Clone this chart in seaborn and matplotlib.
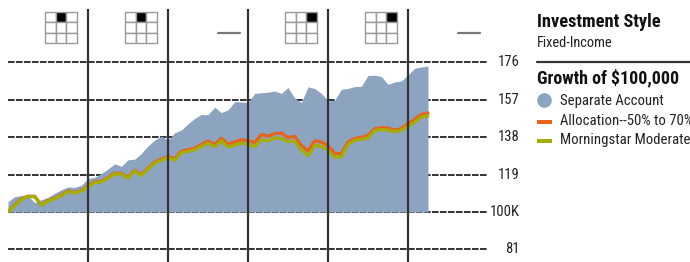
import numpy as np
import pandas as pd
import matplotlib
matplotlib.use("Agg")
import matplotlib.pyplot as plt
import matplotlib.transforms as mtransforms
from matplotlib.patches import Rectangle
import seaborn as sns

# ---------------- data ----------------
separate_account = [105.2, 107.8, 108.3, 108.3, 104.8, 106.2, 107.5, 109.5, 111.3, 112.7,
                    112.5, 113.5, 117.0, 117.6, 119.6, 121.8, 124.5, 123.2, 126.5, 126.8,
                    129.7, 133.5, 136.5, 138.5, 136.5, 140.2, 141.6, 144.8, 147.5, 149.5,
                    149.4, 153.2, 150.5, 151.8, 156.0, 155.9, 155.5, 160.2, 160.5, 160.8,
                    161.4, 160.2, 163.2, 157.8, 155.6, 163.5, 162.7, 160.2, 156.4, 156.7,
                    162.3, 162.7, 163.7, 163.8, 169.3, 169.4, 168.8, 164.8, 166.0, 166.5,
                    169.6, 173.0, 173.6, 174.1]
allocation = [100.2, 103.5, 106.8, 108.0, 108.0, 103.6, 105.8, 107.0, 108.6, 110.6,
              110.0, 110.8, 113.4, 115.3, 115.6, 117.6, 119.7, 119.6, 117.5, 121.2,
              119.0, 122.3, 125.3, 126.8, 128.2, 127.0, 130.8, 131.6, 132.4, 134.2,
              136.0, 134.3, 137.4, 134.4, 135.6, 136.6, 136.2, 135.3, 139.3, 138.5,
              139.8, 140.1, 137.8, 138.4, 133.7, 131.0, 136.1, 135.6, 133.6, 129.8,
              129.6, 135.5, 137.3, 137.8, 138.9, 142.3, 142.8, 142.6, 141.5, 142.4,
              144.8, 147.0, 149.5, 150.3]
moderate = [100.2, 103.2, 106.4, 107.8, 107.8, 103.4, 105.5, 106.8, 108.3, 110.3,
            109.7, 110.5, 113.0, 114.9, 115.2, 117.2, 119.3, 119.2, 117.1, 120.8,
            118.5, 121.8, 124.8, 126.2, 127.5, 126.3, 130.0, 130.8, 131.5, 133.2,
            135.0, 133.1, 136.1, 133.0, 134.0, 135.0, 134.4, 133.2, 136.7, 136.1,
            137.6, 137.3, 135.7, 136.0, 131.5, 128.5, 133.8, 133.4, 131.4, 127.8,
            128.0, 134.3, 136.5, 136.8, 137.6, 141.3, 141.8, 141.6, 140.7, 141.5,
            143.4, 145.6, 148.2, 148.8]
ytick_values = [81, 100, 119, 138, 157, 176]
ytick_labels = ["81", "100K", "119", "138", "157", "176"]
n_years = 6
# style box per year: (row, col) of filled cell, None = no rating (dash)
style_boxes = [(0, 1), (0, 1), None, (0, 2), (0, 2), None]
series_names = ["Separate Account", "Allocation--50% to 70% Equity",
                "Morningstar Moderate Target Risk"]

# ---------------- style ----------------
sns.set_theme(style="white")
FONT = ["Roboto Condensed", "Liberation Sans Narrow", "Roboto", "DejaVu Sans"]
plt.rcParams["font.family"] = FONT

AREA = "#8ca4c0"
ORANGE = "#e8621c"
OLIVE = "#a4ad00"

W, H = 690, 262
fig = plt.figure(figsize=(W / 100, H / 100), dpi=100)
ax_left, ax_right, ax_top, ax_bottom = 8, 488, 9, 262
ax = fig.add_axes([ax_left / W, 1 - ax_bottom / H,
                   (ax_right - ax_left) / W, (ax_bottom - ax_top) / H])

px_per_unit = 1.97
y_min = 100 - (ax_bottom - 212) / px_per_unit
y_max = 100 + (212 - ax_top) / px_per_unit
ax.set_xlim(0, n_years * 12)
ax.set_ylim(y_min, y_max)

months = np.arange(len(separate_account))
df = pd.DataFrame({"month": months, "sa": separate_account,
                   "alloc": allocation, "mod": moderate})

# gridlines
ax.hlines(ytick_values, 0, n_years * 12, colors="#111111", lw=1.2,
          linestyles=(0, (4, 0.8)), zorder=1)

# area
ax.fill_between(df["month"], 100, df["sa"], color=AREA, lw=0, zorder=2)

# lines
sns.lineplot(data=df, x="month", y="alloc", color=ORANGE, lw=2.3, ax=ax, zorder=3)
sns.lineplot(data=df, x="month", y="mod", color=OLIVE, lw=2.3, ax=ax, zorder=4)

# year separators
for yr in range(1, n_years):
    ax.axvline(yr * 12, color="#333333", lw=1.6, zorder=5)

# y tick labels (right side)
lab_trans = mtransforms.blended_transform_factory(ax.transAxes, ax.transData)
for v, s in zip(ytick_values, ytick_labels):
    ax.text(1 + 32 / (ax_right - ax_left), v, s, transform=lab_trans,
            ha="right", va="center", fontsize=10.5, color="#222222",
            clip_on=False)

# style boxes
box_trans = mtransforms.blended_transform_factory(ax.transData, ax.transAxes)
ax_h = ax_bottom - ax_top
box_w_m = 32 / 6.667
box_top = (ax_bottom - 12) / ax_h
box_bot = (ax_bottom - 43) / ax_h
cell_h = (box_top - box_bot) / 3
for i, sb in enumerate(style_boxes):
    x0 = i * 12
    if sb is None:
        yd = (ax_bottom - 33) / ax_h
        ax.plot([x0 + 7.5, x0 + 10.8], [yd, yd], color="#777777", lw=1.6,
                transform=box_trans, clip_on=False, zorder=6)
        continue
    bx = x0 + 5.55
    cw = box_w_m / 3
    for r in range(3):
        for c in range(3):
            filled = (r, c) == sb
            rect = Rectangle((bx + c * cw, box_top - (r + 1) * cell_h), cw, cell_h,
                             transform=box_trans, facecolor="black" if filled else "white",
                             edgecolor="#999999", lw=1.0, clip_on=False, zorder=6)
            ax.add_patch(rect)

ax.set_xticks([])
ax.set_yticks([])
ax.set_xlabel("")
ax.set_ylabel("")
for sp in ax.spines.values():
    sp.set_visible(False)
ax.patch.set_alpha(0)


def fx(px):
    return px / W


def fy(py):
    return 1 - py / H


fig.text(fx(537), fy(22), "Investment Style", fontsize=13.2, fontweight="bold",
         va="center", ha="left", color="#111111")
fig.text(fx(537), fy(43), "Fixed-Income", fontsize=10.4, va="center", ha="left",
         color="#222222")
fig.add_artist(plt.Line2D([fx(537), fx(690)], [fy(62), fy(62)], color="#333333", lw=1.6))
fig.text(fx(537), fy(78), "Growth of $100,000", fontsize=12.9, fontweight="bold",
         va="center", ha="left", color="#111111")

fig.add_artist(plt.Line2D([fx(544)], [fy(100)], marker="o", markersize=9.5,
                          color=AREA, lw=0))
fig.add_artist(Rectangle((fx(537), fy(124)), fx(15), 4 / H, color=ORANGE, lw=0))
fig.add_artist(Rectangle((fx(537), fy(143)), fx(15), 4 / H, color=OLIVE, lw=0))
for py, name in zip([101, 121, 140], series_names):
    fig.text(fx(560), fy(py), name, fontsize=10.6, va="center", ha="left",
             color="#222222")

fig.savefig("out.png", dpi=100)
